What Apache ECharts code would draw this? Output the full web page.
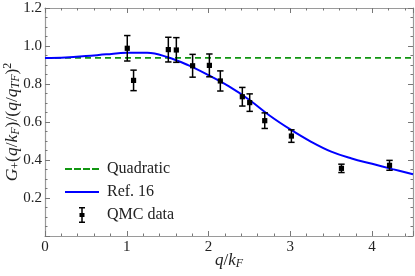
<!DOCTYPE html>
<html><head><meta charset="utf-8">
<script src="https://cdn.jsdelivr.net/npm/echarts@6/dist/echarts.min.js"></script>
<style>html,body{margin:0;padding:0;background:#fff}#c{width:415px;height:276px}</style>
</head><body><div id="c"></div>
<script>
// QMC data (q/kF, value, error)
const qmcQ   = [1.006, 1.083, 1.508, 1.606, 1.805, 2.010, 2.144, 2.413, 2.503, 2.687, 3.013, 3.625, 4.213];
const qmcG   = [0.988, 0.819, 0.981, 0.979, 0.896, 0.898, 0.816, 0.733, 0.702, 0.607, 0.526, 0.356, 0.372];
const qmcErr = [0.067, 0.054, 0.065, 0.065, 0.060, 0.060, 0.053, 0.049, 0.046, 0.041, 0.033, 0.022, 0.026];
// Ref. 16 curve
const refQ = [0, 0.25, 0.5, 0.75, 1.0, 1.25, 1.5, 1.75, 2.0, 2.25, 2.5, 2.75, 3.0, 3.25, 3.5, 3.75, 4.0, 4.25, 4.5];
const refG = [0.937, 0.940, 0.947, 0.956, 0.964, 0.964, 0.941, 0.899, 0.846, 0.787, 0.716, 0.633, 0.561, 0.497, 0.444, 0.408, 0.380, 0.352, 0.325];
// Quadratic
const quadQ = [0, 4.5];
const quadG = [0.937, 0.937];
const xTicks = [0, 1, 2, 3, 4];
const yTicks = [0.2, 0.4, 0.6, 0.8, 1.0, 1.2];

const SERIF = '"Liberation Serif", "DejaVu Serif", serif';
const frame = '#9a9a9a';
const GREEN = '#119611', BLUE = '#0000ff';

function axisCommon(showLabel){
  return {
    axisLine: {show: true, onZero: false, lineStyle: {color: frame, width: 1.2}},
    axisTick: {show: true, inside: true, length: 5, lineStyle: {color: '#777', width: 1}},
    minorTick: {show: true, length: 2.5, lineStyle: {color: '#777', width: 1}},
    splitLine: {show: false},
    axisLabel: {show: showLabel, color: '#222', fontFamily: SERIF, fontSize: 14}
  };
}

const chart = echarts.init(document.getElementById('c'), null, {renderer: 'canvas'});
const xBase = {type: 'value', min: 0, max: 4.5, interval: 1};
const yBase = {type: 'value', min: 0, max: 1.2, interval: 0.2};

const option = {
  animation: false,
  backgroundColor: '#fff',
  grid: {left: 45, right: 2, top: 8, bottom: 40, containLabel: false, outerBoundsMode: 'none'},
  xAxis: [
    Object.assign({}, xBase, axisCommon(true), {
      position: 'bottom',
      name: '{i|q}{n|/}{i|k}{sub|F}',
      nameLocation: 'middle', nameGap: 15, nameMoveOverlap: false,
      nameTextStyle: {rich: {
        i: {fontFamily: SERIF, fontStyle: 'italic', fontSize: 17, color: '#222'},
        n: {fontFamily: SERIF, fontSize: 17, color: '#222'},
        sub: {fontFamily: SERIF, fontStyle: 'italic', fontSize: 12, color: '#222', padding: [7, 0, 0, 0]}
      }},
      axisLabel: {show: true, color: '#222', fontFamily: SERIF, fontSize: 15, margin: 4,
        formatter: v => xTicks.includes(v) ? String(v) : ''},
      minorTick: {show: true, splitNumber: 5, length: 2.5, lineStyle: {color: '#777', width: 1}}
    }),
    Object.assign({}, xBase, axisCommon(false), {
      position: 'top',
      minorTick: {show: true, splitNumber: 5, length: 2.5, lineStyle: {color: '#777', width: 1}}
    })
  ],
  yAxis: [
    Object.assign({}, yBase, axisCommon(true), {
      position: 'left',
      name: '{i|G}{subn|+}{n|(}{i|q}{n|/}{i|k}{sub|F}{n|)/(}{i|q}{n|/}{i|q}{sub|TF}{n|)}{sup|2}',
      nameLocation: 'middle', nameGap: 22, nameRotate: 90, nameMoveOverlap: false,
      nameTextStyle: {rich: {
        i: {fontFamily: SERIF, fontStyle: 'italic', fontSize: 17.5, color: '#222'},
        n: {fontFamily: SERIF, fontSize: 17.5, color: '#222'},
        sub: {fontFamily: SERIF, fontStyle: 'italic', fontSize: 12, color: '#222', padding: [7, 0, 0, 0]},
        subn: {fontFamily: SERIF, fontSize: 12, color: '#222', padding: [7, 0, 0, 0]},
        sup: {fontFamily: SERIF, fontSize: 12, color: '#222', padding: [0, 0, 9, 0]}
      }},
      axisLabel: {show: true, color: '#222', fontFamily: SERIF, fontSize: 15, margin: 3,
        formatter: v => yTicks.some(t => Math.abs(t - v) < 1e-9) ? v.toFixed(1) : ''},
      minorTick: {show: true, splitNumber: 4, length: 2.5, lineStyle: {color: '#777', width: 1}}
    }),
    Object.assign({}, yBase, axisCommon(false), {
      position: 'right',
      minorTick: {show: true, splitNumber: 4, length: 2.5, lineStyle: {color: '#777', width: 1}}
    })
  ],
  legend: {
    orient: 'vertical', left: 60, top: 156, itemWidth: 34, itemHeight: 16, itemGap: 7,
    symbolKeepAspect: true,
    textStyle: {fontFamily: SERIF, fontSize: 16, color: '#222', padding: [0, 0, 0, 3]},
    data: [
      {name: 'Quadratic', icon: 'path://M0,0h7v2h-7z M9,0h7v2h-7z M18,0h7v2h-7z M27,0h7v2h-7z', itemStyle: {color: GREEN}},
      {name: 'Ref. 16', icon: 'path://M0,0h34v2.2h-34z', itemStyle: {color: BLUE}},
      {name: 'QMC data', icon: 'path://M1,0h6v1.5h-6z M3.25,0h1.5v16h-1.5z M1,14.5h6v1.5h-6z M1.5,6h5v4h-5z', itemStyle: {color: '#000'}}
    ]
  },
  series: [
    {
      name: 'Quadratic', type: 'line', symbol: 'none', xAxisIndex: 0, yAxisIndex: 0,
      data: quadQ.map((q, i) => [q, quadG[i]]),
      lineStyle: {color: GREEN, width: 1.8, type: [6, 4]}, itemStyle: {color: GREEN}, z: 2
    },
    {
      name: 'Ref. 16', type: 'line', symbol: 'none', smooth: 0.4, xAxisIndex: 0, yAxisIndex: 0,
      data: refQ.map((q, i) => [q, refG[i]]),
      lineStyle: {color: BLUE, width: 2}, itemStyle: {color: BLUE}, z: 3
    },
    {
      name: 'QMC data', type: 'custom', xAxisIndex: 0, yAxisIndex: 0, z: 4,
      itemStyle: {color: '#000'},
      data: qmcQ.map((q, i) => [q, qmcG[i], qmcG[i] - qmcErr[i], qmcG[i] + qmcErr[i]]),
      renderItem: function (params, api) {
        const p = api.coord([api.value(0), api.value(1)]);
        const lo = api.coord([api.value(0), api.value(2)]);
        const hi = api.coord([api.value(0), api.value(3)]);
        const w = 3.2, s = 2.6;
        const st = {stroke: '#000', lineWidth: 1.5};
        return {type: 'group', children: [
          {type: 'line', shape: {x1: p[0], y1: lo[1], x2: p[0], y2: hi[1]}, style: st},
          {type: 'line', shape: {x1: p[0] - w, y1: lo[1], x2: p[0] + w, y2: lo[1]}, style: st},
          {type: 'line', shape: {x1: p[0] - w, y1: hi[1], x2: p[0] + w, y2: hi[1]}, style: st},
          {type: 'rect', shape: {x: p[0] - s, y: p[1] - s, width: 2 * s, height: 2 * s}, style: {fill: '#000'}}
        ]};
      }
    }
  ]
};
chart.setOption(option);
</script></body></html>
